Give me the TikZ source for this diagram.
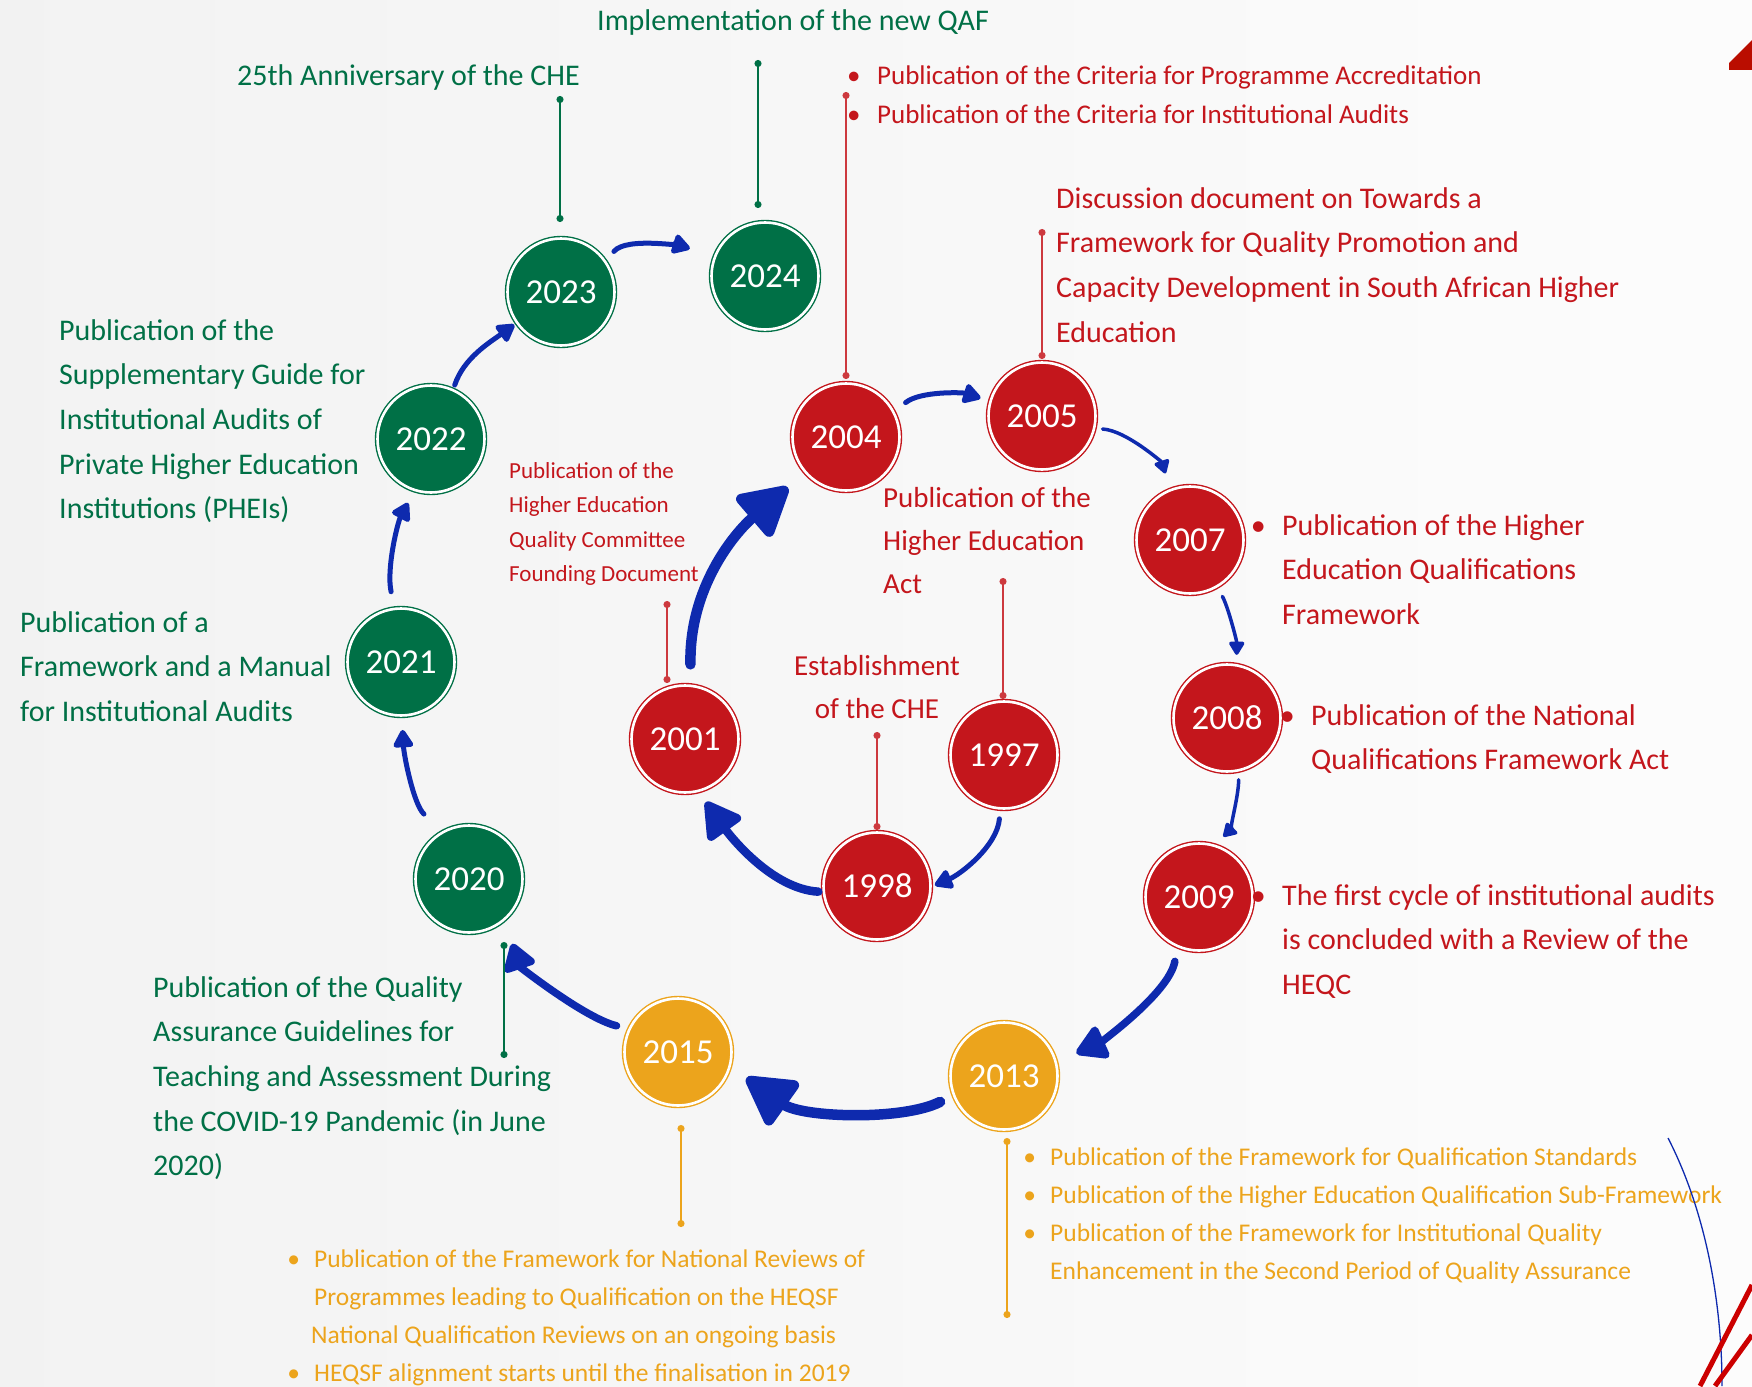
\documentclass[tikz,border=0pt]{standalone}
\usepackage{fontspec}
\setmainfont{Carlito}
\usepackage{xcolor}
\usetikzlibrary{arrows.meta,calc}

\definecolor{chered}{RGB}{196,22,28}
\definecolor{chegreen}{RGB}{0,112,70}
\definecolor{cheorange}{RGB}{236,164,28}
\definecolor{cheblue}{RGB}{14,42,174}
\newcommand{\tlbul}{\llap{\textbullet\hspace{0.55em}}}

\begin{document}
\begin{tikzpicture}[x=1pt, y=-1pt,
    yr/.style={circle, fill=#1, draw=#1, double=white, double distance=2.6pt, line width=1.4pt,
        minimum size=107pt, inner sep=0pt, outer sep=2.5pt, text=white, font=\fontsize{35}{40}\selectfont},
    evtext/.style={anchor=north west, inner sep=0pt, align=left, text=#1, font=\fontsize{30}{44.7}\selectfont},
    pinline/.style={draw=#1, line width=1.6pt, {Circle[length=7pt]}-{Circle[length=7pt]}},
    flowsm/.style={cheblue, line width=3.5pt, line cap=round, -{Triangle[length=15pt,width=17pt,round]}},
    flowmd/.style={cheblue, line width=5pt, line cap=round, -{Triangle[length=20pt,width=22pt,round]}},
    flowlg/.style={cheblue, line width=7.5pt, line cap=round, -{Triangle[length=34pt,width=38pt,round]}},
    flowxl/.style={cheblue, line width=10.5pt, line cap=round, -{Triangle[length=54pt,width=58pt,round]}}]

    % background
    \useasboundingbox (0,0) rectangle (1752,1386);
    \fill[left color=black!5, right color=black!1] (0,0) rectangle (1752,1386);

    % inner cycle (red)
    \node[yr=chered] (y1997) at (1004,755) {1997};
    \node[yr=chered] (y1998) at (877,886) {1998};
    \node[yr=chered] (y2001) at (685,739) {2001};
    \node[yr=chered] (y2004) at (846,437) {2004};
    \node[yr=chered] (y2005) at (1042,416) {2005};
    \node[yr=chered] (y2007) at (1190,540) {2007};
    \node[yr=chered] (y2008) at (1227,718) {2008};
    \node[yr=chered] (y2009) at (1199,897) {2009};

    % orange
    \node[yr=cheorange] (y2013) at (1004,1076) {2013};
    \node[yr=cheorange] (y2015) at (678,1052) {2015};

    % green
    \node[yr=chegreen] (y2020) at (469,879) {2020};
    \node[yr=chegreen] (y2021) at (401,662) {2021};
    \node[yr=chegreen] (y2022) at (431,439) {2022};
    \node[yr=chegreen] (y2023) at (561,292) {2023};
    \node[yr=chegreen] (y2024) at (765,276) {2024};

    % arrows
    \draw[flowmd, shorten <=8pt, shorten >=2pt] (y1997.-94) .. controls +(-3,35) and +(28,-12) .. (y1998.0);
    \draw[flowlg, -{Triangle[length=40pt,width=44pt,round]}, line width=8.5pt, shorten <=3pt, shorten >=11pt] (y1998.186) .. controls +(-50,-3) and +(30,42) .. (y2001.-75);
    \draw[flowxl, shorten <=19pt, shorten >=21pt] (y2001.84) .. controls +(-2,-95) and +(-70,60) .. (y2004.221);
    \draw[flowmd, shorten <=13pt, shorten >=8pt] (y2004.28) .. controls +(25,-20) and +(-25,-8) .. (y2005.164);
    \draw[flowsm, shorten <=6pt, shorten >=15pt] (y2005.-13) .. controls +(30,2) and +(-8,-25) .. (y2007.111);
    \draw[flowsm, shorten <=9pt, shorten >=8pt] (y2007.-60) .. controls +(10,18) and +(0,-22) .. (y2008.80);
    \draw[flowsm, shorten <=7pt, shorten >=10pt] (y2008.-78) .. controls +(0,25) and +(12,-12) .. (y2009.72);
    \draw[flowlg, shorten <=13pt, shorten >=20pt] (y2009.247) .. controls +(-8,45) and +(40,-18) .. (y2013.15);
    \draw[flowxl, shorten <=13pt, shorten >=18pt] (y2013.201) .. controls +(-50,25) and +(70,50) .. (y2015.-16);
    \draw[flowlg, -{Triangle[length=30pt,width=36pt,round]}, shorten <=11pt, shorten >=23pt] (y2015.155) .. controls +(-42,-10) and +(15,45) .. (y2020.-50);
    \draw[flowmd, shorten <=24pt, shorten >=12pt] (y2020.119) .. controls +(-28,-25) and +(2,38) .. (y2021.-89);
    \draw[flowmd, shorten <=15pt, shorten >=12pt] (y2021.97) .. controls +(-8,-38) and +(-16,30) .. (y2022.252);
    \draw[flowmd, shorten <=3pt, shorten >=1pt] (y2022.66) .. controls +(10,-30) and +(-25,18) .. (y2023.215);
    \draw[flowmd, shorten <=11pt, shorten >=24pt] (y2023.35) .. controls +(20,-24) and +(-25,-8) .. (y2024.159);

    % event texts
    \node[evtext=chegreen] (tQAF) at (597,9) {Implementation of the new QAF};
    \node[evtext=chegreen] (t2023) at (237,64) {25th Anniversary of the CHE};
    \node[evtext=chegreen] (t2022) at (59,319) {Publication of the\\Supplementary Guide for\\Institutional Audits of\\Private Higher Education\\Institutions (PHEIs)};
    \node[evtext=chegreen] (t2021) at (20,611) {Publication of a\\Framework and a Manual\\for Institutional Audits};
    \node[evtext=chegreen] (t2020) at (153,976) {Publication of the Quality\\Assurance Guidelines for\\Teaching and Assessment During\\the COVID-19 Pandemic (in June\\2020)};

    \node[evtext=chered, font=\fontsize{27}{39}\selectfont] (t2004) at (877,66) {\llap{\textbullet\hspace{0.62em}}Publication of the Criteria for Programme Accreditation\\ \llap{\textbullet\hspace{0.62em}}Publication of the Criteria for Institutional Audits};
    \node[evtext=chered] (t2005) at (1056,187) {Discussion document on Towards a\\Framework for Quality Promotion and\\Capacity Development in South African Higher\\Education};
    \node[evtext=chered, font=\fontsize{29}{43}\selectfont] (t1997) at (883,487) {Publication of the\\Higher Education\\Act};
    \node[evtext=chered, font=\fontsize{23}{34.6}\selectfont] (t2001) at (509,462) {Publication of the\\Higher Education\\Quality Committee\\Founding Document};
    \node[evtext=chered, anchor=north, align=center, font=\fontsize{29}{43}\selectfont] (t1998) at (877,655) {Establishment\\of the CHE};
    \node[evtext=chered] (t2007) at (1282,514) {\tlbul Publication of the Higher\\Education Qualifications\\Framework};
    \node[evtext=chered] (t2008) at (1311,704) {\tlbul Publication of the National\\Qualifications Framework Act};
    \node[evtext=chered] (t2009) at (1282,884) {\tlbul The first cycle of institutional audits\\is concluded with a Review of the\\HEQC};

    \node[evtext=cheorange, font=\fontsize{25.5}{37.7}\selectfont] (t2013) at (1050,1148) {\tlbul Publication of the Framework for Qualification Standards\\ \tlbul Publication of the Higher Education Qualification Sub-Framework\\ \tlbul Publication of the Framework for Institutional Quality\\Enhancement in the Second Period of Quality Assurance};
    \node[evtext=cheorange, font=\fontsize{25.5}{37.7}\selectfont] (t2015) at (314,1250) {\tlbul Publication of the Framework for National Reviews of\\Programmes leading to Qualification on the HEQSF\\ \hspace*{-3pt}National Qualification Reviews on an ongoing basis\\ \tlbul HEQSF alignment starts until the finalisation in 2019};

    % stems
    \coordinate (p2004) at (846,92);
    \coordinate (p2005) at (1042,229);
    \coordinate (p1997) at (1003,578);
    \coordinate (p1998) at (877,732);
    \coordinate (p2001) at (667,601);
    \coordinate (p2023) at (560,96);
    \coordinate (p2024) at (758,60);
    \coordinate (p2020) at (504,1058);
    \coordinate (p2015) at (681,1227);
    \coordinate (p2013) at (1007,1318);
    \draw[pinline=chered!85, shorten >=2pt] (p2004) -- (p2004 |- y2004.north);
    \draw[pinline=chered!85, shorten >=1pt] (p2005) -- (p2005 |- y2005.north);
    \draw[pinline=chered!85] (p1997) -- (p1997 |- y1997.north);
    \draw[pinline=chered!85] (p1998) -- (p1998 |- y1998.north);
    \draw[pinline=chered!85] (p2001) -- (p2001 |- y2001.north);
    \draw[pinline=chegreen, shorten >=14pt] (p2023) -- (p2023 |- y2023.north);
    \draw[pinline=chegreen, shorten >=12pt] (p2024) -- (p2024 |- y2024.north);
    \draw[pinline=chegreen, shorten >=7pt] (p2020) -- (p2020 |- y2020.south);
    \draw[pinline=cheorange, shorten >=17pt] (p2015) -- (p2015 |- y2015.south);
    \draw[pinline=cheorange, shorten >=6pt] (p2013) -- (p2013 |- y2013.south);

    % slide edge pieces
    \fill[red!70!black!90!orange] (1729,70) -- (1729,63) -- (1752,40) -- (1752,70) -- cycle;
    \draw[cheblue, line width=1.3pt] (1668,1138) .. controls (1705,1210) and (1722,1300) .. (1722,1386);
    \draw[red!80!black, line width=5pt] (1752,1285) -- (1700,1386);
    \draw[red!80!black, line width=5pt] (1752,1335) -- (1715,1386);
\end{tikzpicture}
\end{document}
